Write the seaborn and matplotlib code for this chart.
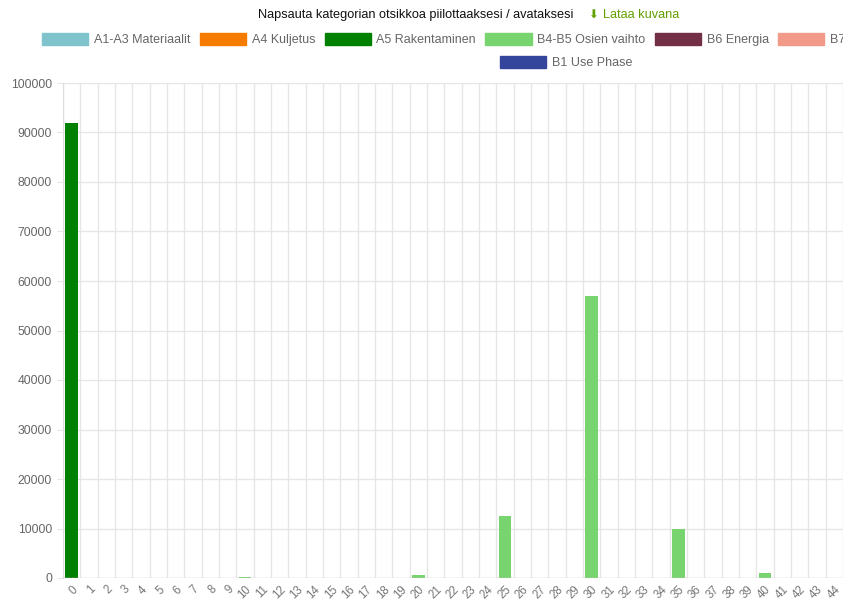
import matplotlib
matplotlib.use("Agg")
import matplotlib.pyplot as plt
from matplotlib.patches import Patch, Rectangle
import seaborn as sns
import pandas as pd

# ---- data ----
categories = [str(i) for i in range(46)]
series = ["A1-A3 Materiaalit", "A4 Kuljetus", "A5 Rakentaminen",
          "B4-B5 Osien vaihto", "B6 Energia", "B7 Vesi", "B1 Use Phase"]
colors = ["#7fc4cc", "#f57c00", "#008000", "#77d46f", "#722f45", "#f19a8a", "#34459c"]
a5_values = {0: 92000}
b4b5_values = {10: 250, 20: 600, 25: 12600, 30: 57000, 35: 10000, 40: 1000}
y_ticks = list(range(0, 100001, 10000))

rows = []
for i, c in enumerate(categories):
    for s in series:
        v = 0
        if s == "A5 Rakentaminen":
            v = a5_values.get(i, 0)
        elif s == "B4-B5 Osien vaihto":
            v = b4b5_values.get(i, 0)
        rows.append({"cat": c, "series": s, "value": v})
df = pd.DataFrame(rows)

sns.set_style("white")
plt.rcParams['font.family'] = ['Liberation Sans', 'DejaVu Sans']

W, H = 859, 601
fig = plt.figure(figsize=(W / 100, H / 100), dpi=100)
ax = fig.add_axes([63 / W, 1 - 578 / H, 797.3 / W, 495 / H])

sns.barplot(data=df, x="cat", y="value", hue="series", order=categories,
            hue_order=series, palette=colors, dodge=False, width=0.72,
            legend=False, ax=ax, errorbar=None, saturation=1, linewidth=0)

ax.set_xlim(-0.5, len(categories) - 0.5)
ax.set_ylim(0, 100000)
ax.set_yticks(y_ticks)
ax.set_yticklabels([str(t) for t in y_ticks])
ax.set_xlabel("")
ax.set_ylabel("")

# grid lines (chart.js style: vertical lines at category boundaries)
for x in range(len(categories) + 1):
    ax.axvline(x - 0.5, color="#e6e6e6", lw=1, zorder=0)
for t in y_ticks[1:]:
    ax.axhline(t, color="#e6e6e6", lw=1, zorder=0)
ax.axhline(0, color="#c4c4c4", lw=1, zorder=3)

for sp in ["top", "right", "bottom"]:
    ax.spines[sp].set_visible(False)
ax.spines["left"].set_color("#dddddd")

ax.tick_params(axis="y", length=4.5, color="#e6e6e6", labelsize=8.8,
               labelcolor="#666666", pad=3.5, left=True)
ax.tick_params(axis="x", length=0, labelsize=8.3, labelcolor="#777777", pad=4)
plt.setp(ax.get_xticklabels(), rotation=45, ha="right", rotation_mode="anchor")

# header text
fig.text(258 / W, 1 - 15 / H, "Napsauta kategorian otsikkoa piilottaaksesi / avataksesi",
         ha="left", va="center", fontsize=9.2, color="#111111")
fig.text(588 / W, 1 - 15 / H, "⬇", ha="left", va="center", fontsize=8.5,
         color="#62a000", family=["DejaVu Sans"])
fig.text(603 / W, 1 - 15 / H, "Lataa kuvana", ha="left", va="center",
         fontsize=9.2, color="#62a000")

# legend
handles = [Patch(facecolor=c, edgecolor=c) for c in colors]
leg_kw = dict(frameon=False, fontsize=9, handlelength=3.7, handleheight=1.1,
              handletextpad=0.45, columnspacing=0.75, borderpad=0,
              borderaxespad=0, labelcolor="#666666")
fig.legend(handles[:6], series[:6], ncol=6, loc="upper left",
           bbox_to_anchor=(42 / W, 1 - 33 / H), **leg_kw)
fig.legend(handles[6:], series[6:], ncol=1, loc="upper left",
           bbox_to_anchor=(500 / W, 1 - 56 / H), **leg_kw)

# cropped right edge as in the reference
fig.add_artist(Rectangle((843 / W, 0), 1, 1, transform=fig.transFigure,
                         facecolor="white", edgecolor="none", zorder=50))

fig.savefig("out.png", dpi=100)
